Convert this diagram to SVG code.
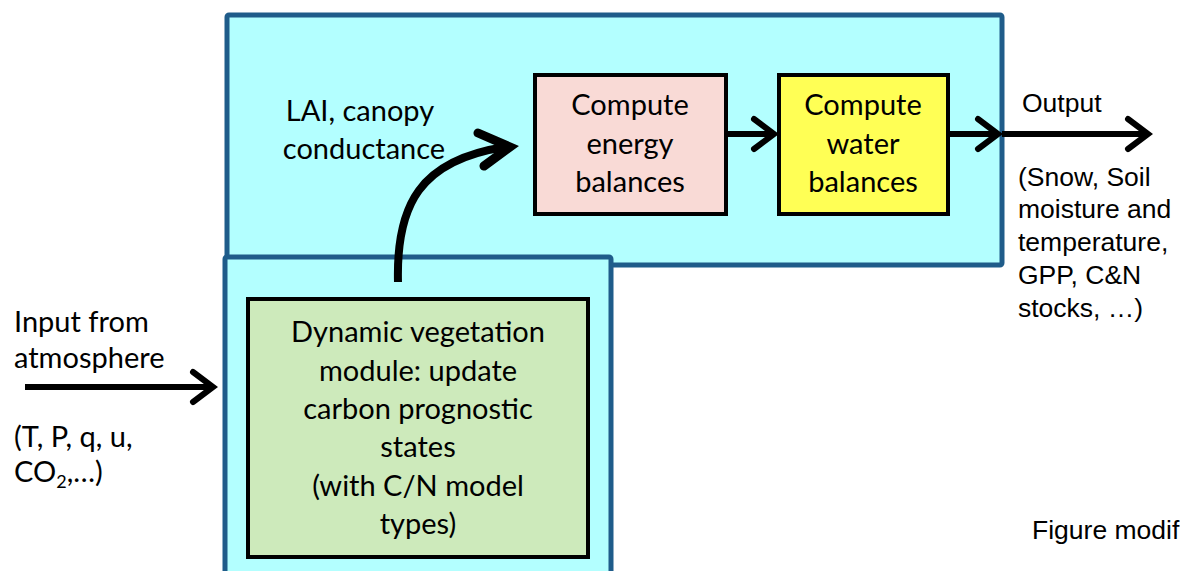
<svg xmlns="http://www.w3.org/2000/svg" width="1180" height="571" viewBox="0 0 1180 571">
<style>
.frame{fill:#b3ffff;stroke:#1f5c8a;stroke-width:5}
.box{stroke:#000;stroke-width:4}
.t{font-family:Lato,"Open Sans",sans-serif;font-size:29px;fill:#000}
.a{font-family:"Liberation Sans",Arial,sans-serif;font-size:26.5px;fill:#000}
.ln{fill:none;stroke:#000;stroke-width:6}
.hd{fill:none;stroke:#000;stroke-width:6;stroke-linecap:round;stroke-linejoin:miter}
.cv{fill:none;stroke:#000;stroke-width:8}
.cvh{fill:none;stroke:#000;stroke-width:9;stroke-linecap:round;stroke-linejoin:miter}
</style>
<rect width="1180" height="571" fill="#fff"/>
<g id="upper-frame"><rect class="frame" x="227" y="15" width="775" height="250" rx="2"/></g>
<g id="lower-frame"><rect class="frame" x="225" y="257" width="386" height="330" rx="2"/></g>
<g id="energy">
<rect class="box" x="535" y="75" width="191" height="139" fill="#f9dad6"/>
<text class="t" text-anchor="middle" x="630" y="115">Compute</text>
<text class="t" text-anchor="middle" x="630" y="154">energy</text>
<text class="t" text-anchor="middle" x="630" y="192">balances</text>
</g>
<g id="water">
<rect class="box" x="779" y="75" width="169" height="139" fill="#ffff55"/>
<text class="t" text-anchor="middle" x="863" y="115">Compute</text>
<text class="t" text-anchor="middle" x="863" y="154">water</text>
<text class="t" text-anchor="middle" x="863" y="192">balances</text>
</g>
<g id="vegetation">
<rect class="box" x="248" y="299" width="340" height="258" fill="#cdeabb"/>
<text class="t" text-anchor="middle" x="418" y="342">Dynamic vegetation</text>
<text class="t" text-anchor="middle" x="418" y="381">module: update</text>
<text class="t" text-anchor="middle" x="418" y="419">carbon prognostic</text>
<text class="t" text-anchor="middle" x="418" y="457">states</text>
<text class="t" text-anchor="middle" x="418" y="496">(with C/N model</text>
<text class="t" text-anchor="middle" x="418" y="534">types)</text>
</g>
<g id="labels">
<text class="t" text-anchor="middle" x="360" y="121">LAI, canopy</text>
<text class="t" text-anchor="middle" x="364" y="159">conductance</text>
<text class="t" x="14" y="332">Input from</text>
<text class="t" x="14" y="368">atmosphere</text>
<text class="t" x="14" y="447">(T, P, q, u,</text>
<text class="t" x="14" y="482">CO<tspan font-size="18" dy="6">2</tspan><tspan dy="-6">,…)</tspan></text>
<text class="a" x="1022" y="112">Output</text>
<text class="a" x="1018" y="186">(Snow, Soil</text>
<text class="a" x="1018" y="218">moisture and</text>
<text class="a" x="1018" y="251">temperature,</text>
<text class="a" x="1018" y="284">GPP, C&amp;N</text>
<text class="a" x="1018" y="317">stocks, …)</text>
<text class="a" x="1032" y="539">Figure modif</text>
</g>
<g id="connectors">
<line class="ln" x1="25" y1="387" x2="213" y2="387"/>
<polyline class="hd" points="193,372 213,387 193,402"/>
<line class="ln" x1="726" y1="134" x2="774" y2="134"/>
<polyline class="hd" points="754,119 774,134 754,149"/>
<line class="ln" x1="948" y1="134" x2="998" y2="134"/>
<polyline class="hd" points="978,119 998,134 978,149"/>
<line class="ln" x1="1002" y1="134" x2="1148" y2="134"/>
<polyline class="hd" points="1128,119 1148,134 1128,149"/>
<path class="cv" d="M398,282 C396,205 420,160 505,147"/>
<polyline class="cvh" points="478,133 510,147 484,166"/>
</g>
</svg>
